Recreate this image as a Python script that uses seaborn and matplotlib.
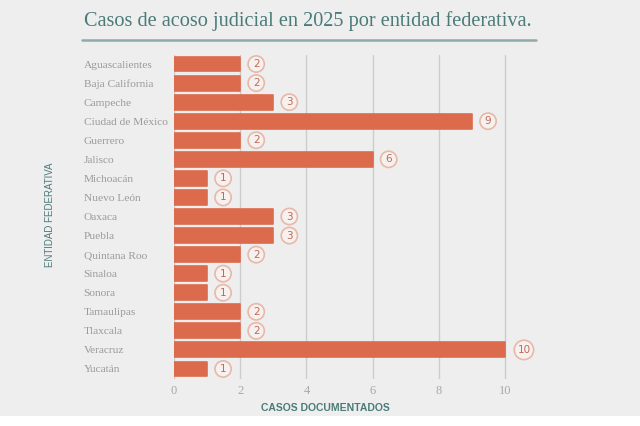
import matplotlib
matplotlib.use("Agg")
import matplotlib.pyplot as plt
import seaborn as sns
import pandas as pd
from matplotlib.patches import Rectangle
from matplotlib.lines import Line2D

entidades = ["Aguascalientes", "Baja California", "Campeche", "Ciudad de México", "Guerrero",
             "Jalisco", "Michoacán", "Nuevo León", "Oaxaca", "Puebla", "Quintana Roo",
             "Sinaloa", "Sonora", "Tamaulipas", "Tlaxcala", "Veracruz", "Yucatán"]
casos = [2, 2, 3, 9, 2, 6, 1, 1, 3, 3, 2, 1, 1, 2, 2, 10, 1]
xticks = [0, 2, 4, 6, 8, 10]

df = pd.DataFrame({"entidad": entidades, "casos": casos})

BG = "#eeeeee"
BAR = "#dc6a4c"
TEAL = "#4b7b79"

sns.set_theme(style="white")
plt.rcParams["font.family"] = ["Liberation Serif", "DejaVu Serif"]

fig = plt.figure(figsize=(6.4, 4.26), dpi=100, facecolor=BG)
ax = fig.add_axes([174/640, 1-378.5/426, (535-174)/640, 324/426])
ax.set_facecolor(BG)

sns.barplot(data=df, x="casos", y="entidad", orient="h", color=BAR, width=0.78,
            saturation=1, ax=ax, zorder=3)
for p in ax.patches:
    p.set_edgecolor(BAR)
    p.set_linewidth(1.2)
    p.set_joinstyle("round")

ax.set_ylim(16.5, -0.5)
ax.set_xlim(0, 10.9)
ax.set_xticks(xticks)
ax.xaxis.grid(True, color="#cccccc", linewidth=1, zorder=0)
ax.set_axisbelow(True)
for s in ax.spines.values():
    s.set_visible(False)
ax.tick_params(axis="x", length=0, pad=5, labelsize=9, labelcolor="#a8a8a8")
ax.tick_params(axis="y", length=0, pad=65, labelsize=8.2, labelcolor="#9a9a9a")
for t in ax.get_yticklabels():
    t.set_horizontalalignment("left")
ax.set_xlabel("")
ax.set_ylabel("")

for i, v in enumerate(casos):
    ax.annotate(str(v), xy=(v, i), xytext=(11.5 if v < 10 else 13.5, 0), textcoords="offset points",
                ha="center", va="center", fontsize=7.5, color="#c06a55",
                family=["DejaVu Sans"],
                bbox=dict(boxstyle="circle,pad=0.3", fc="#f6f1ef", ec="#e8b8a8", lw=1.2),
                zorder=5)

fig.text(84/640, 1-21/426, "Casos de acoso judicial en 2025 por entidad federativa.",
         fontsize=14.6, color=TEAL, ha="left", va="center")
fig.add_artist(Line2D([82/640, 536/640], [1-40/426, 1-40/426], color="#90aaa9", lw=1.8))

fig.text(325/640, 1-408/426, "CASOS DOCUMENTADOS", fontsize=7.5, fontweight="bold",
         color=TEAL, ha="center", va="center", family=["Liberation Sans", "DejaVu Sans"])
fig.text(50/640, 1-215/426, "ENTIDAD FEDERATIVA", fontsize=7, rotation=90,
         color=TEAL, ha="center", va="center", family=["Liberation Sans", "DejaVu Sans"])

fig.add_artist(Rectangle((0, 0), 1, 10/426, transform=fig.transFigure, fc="white", ec="none"))

fig.savefig("out.png", dpi=100, facecolor=BG)
